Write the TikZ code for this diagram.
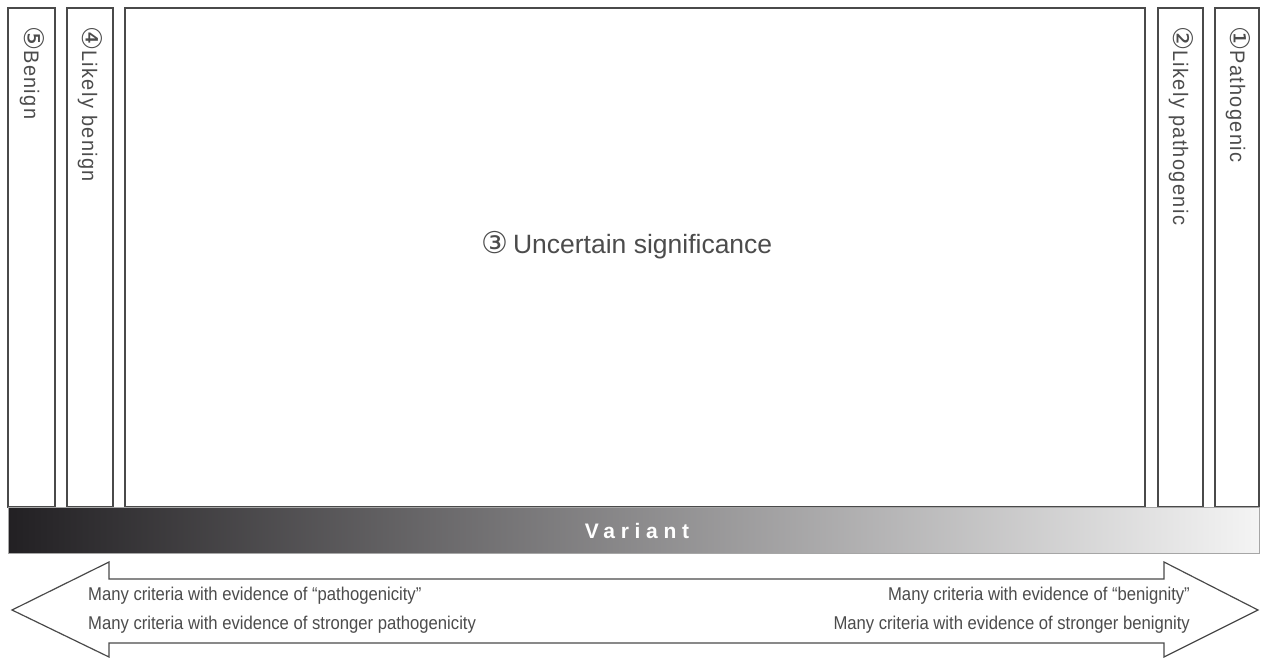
\documentclass[tikz,border=0pt]{standalone}
\usepackage{fontspec}
\setmainfont{Liberation Sans}
\newfontfamily\narrowfont[FakeStretch=0.9]{Liberation Sans}
\newfontfamily\labelfont[FakeStretch=0.95,LetterSpace=6.5]{Liberation Sans}
\newfontfamily\symfont{DejaVu Sans}
\newfontfamily\bandfont[LetterSpace=27]{Liberation Sans}
\definecolor{frame}{HTML}{4A4A4A}
\definecolor{ink}{HTML}{4C4C4C}
\definecolor{barDark}{HTML}{222023}
\definecolor{barLight}{HTML}{F4F4F4}
\newcommand{\circnum}[2]{{\symfont\fontsize{#1}{#1}\selectfont #2}}
\begin{document}
\begin{tikzpicture}[x=1pt,y=-1pt,
  classbox/.style={draw=frame, line width=1.3pt, inner sep=0pt},
  vlabel/.style={rotate=-90, anchor=west, inner sep=0pt, text=ink,
    font=\labelfont\fontsize{21}{21}\selectfont},
  crit/.style={inner sep=0pt, text=ink, font=\narrowfont\fontsize{18.5}{18.5}\selectfont}]
\useasboundingbox (0,0) rectangle (1261,659);

% category columns
\draw[classbox] (8,8) rectangle (55,507);
\draw[classbox] (67,8) rectangle (113,507);
\draw[classbox] (125,8) rectangle (1145,507);
\draw[classbox] (1158,8) rectangle (1203,507);
\draw[classbox] (1215,8) rectangle (1259,507);

\node[vlabel] (benign) at (32,26) {\circnum{27}{⑤}Benign};
\node[vlabel] (lbenign) at (90,26) {\circnum{27}{④}Likely benign};
\node[vlabel] (lpath) at (1181,26) {\circnum{27}{②}Likely pathogenic};
\node[vlabel] (path) at (1238,26) {\circnum{27}{①}Pathogenic};
\node[inner sep=0pt, text=ink, font=\fontsize{26.5}{26.5}\selectfont] (vus) at (627,245)
  {\circnum{30}{③}\,Uncertain significance};

% variant bar
\shade[left color=barDark, right color=barLight] (8,507) rectangle (1259,553);
\draw[draw=gray!70, line width=1pt] (8,507) rectangle (1259,553);
\node[text=white, font=\bandfont\bfseries\fontsize{21}{21}\selectfont, inner sep=0pt] (variant) at (637,531) {Variant};

% two-way evidence arrow
\draw[draw=frame, line width=1.2pt, fill=white, line join=miter]
  (12,610) -- (109,562) -- (109,579) -- (1164,579) -- (1164,562) -- (1258,610)
  -- (1164,657) -- (1164,643) -- (109,643) -- (109,657) -- cycle;
\node[crit, anchor=base west] (pl1) at (88,600) {Many criteria with evidence of “pathogenicity”};
\node[crit, anchor=base west] (pl2) at (88,629) {Many criteria with evidence of stronger pathogenicity};
\node[crit, anchor=base east] (bl1) at (1190,600) {Many criteria with evidence of “benignity”};
\node[crit, anchor=base east] (bl2) at (1190,629) {Many criteria with evidence of stronger benignity};
\end{tikzpicture}
\end{document}
